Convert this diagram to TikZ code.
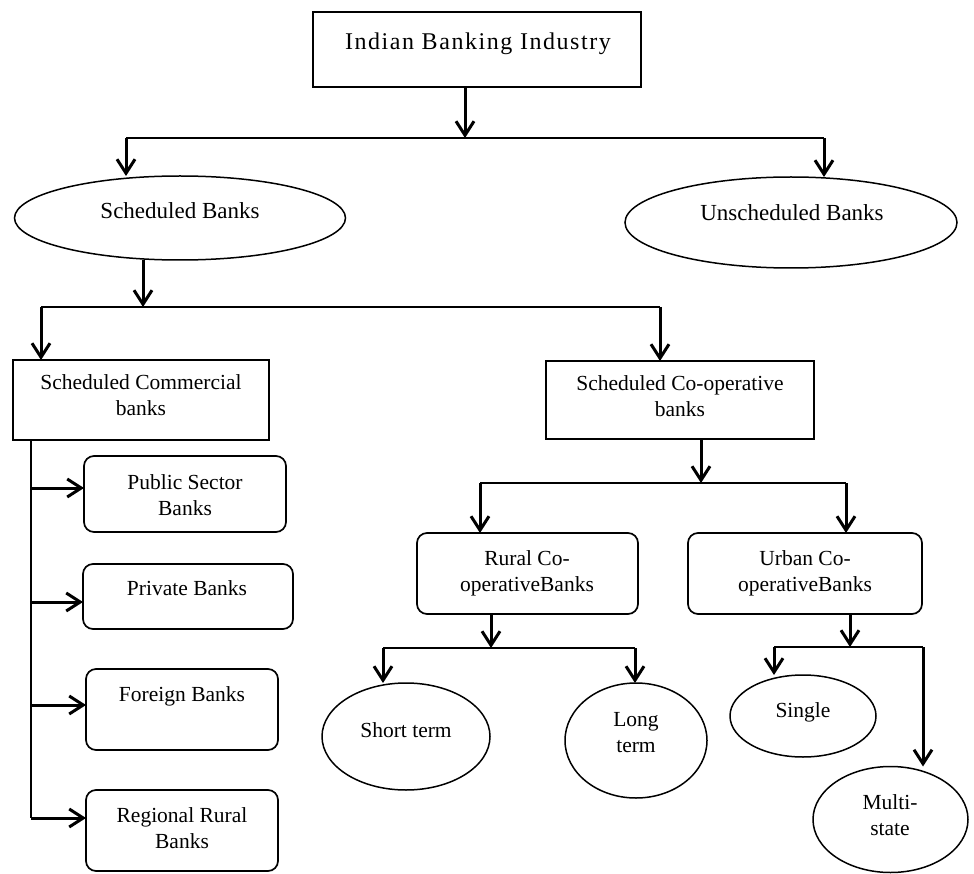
\documentclass[tikz,border=0pt]{standalone}
\usepackage{fontspec}
\setmainfont{Liberation Serif}
\usetikzlibrary{shapes.geometric,arrows.meta}

\tikzset{
  frame/.style={draw, line width=1.7pt, inner sep=0pt, outer sep=0pt},
  sqbox/.style={frame, rectangle},
  rbox/.style={frame, rectangle, rounded corners=10pt},
  oval/.style={frame, ellipse, line width=1.5pt},
  % anchor=base sits on the baseline of the last line
  txt/.style={align=center, inner sep=0pt, anchor=base,
              font=\fontsize{21.5}{26}\selectfont},
  bigtxt/.style={txt, font=\fontsize{23}{27}\selectfont},
  link/.style={line width=2.2pt},
  arr/.style={line width=3pt,
              -{Straight Barb[length=14pt,width=18pt,line width=3pt]}},
}

\begin{document}
\begin{tikzpicture}[x=1pt,y=-1pt]
\useasboundingbox (0,0) rectangle (974,874);

% ---- shapes ----
\node[sqbox, minimum width=328pt, minimum height=75pt] (ind) at (477,49.5) {};
\node[oval, minimum width=331pt, minimum height=84pt] (sch) at (180,218) {};
\node[oval, minimum width=332pt, minimum height=91pt] (uns) at (791,222.5) {};
\node[sqbox, minimum width=256pt, minimum height=80pt] (scb) at (141,400) {};
\node[sqbox, minimum width=268pt, minimum height=78pt] (scob) at (680,400) {};
\node[rbox, minimum width=202pt, minimum height=76pt] (psb) at (185,494) {};
\node[rbox, minimum width=210pt, minimum height=65pt] (pvb) at (188,596.5) {};
\node[rbox, minimum width=192pt, minimum height=81pt] (fb) at (182,709.5) {};
\node[rbox, minimum width=192pt, minimum height=81pt] (rrb) at (182,830.5) {};
\node[rbox, minimum width=221pt, minimum height=81pt] (rcb) at (527.5,573.5) {};
\node[rbox, minimum width=234pt, minimum height=81pt] (ucb) at (805,573.5) {};
\node[oval, minimum width=168pt, minimum height=107pt] (st) at (406,736.5) {};
\node[oval, minimum width=142pt, minimum height=115pt] (lt) at (636,740.5) {};
\node[oval, minimum width=146pt, minimum height=82pt] (sg) at (803,716) {};
\node[oval, minimum width=155pt, minimum height=106pt] (ms) at (890.5,819.5) {};

% ---- labels ----
\node[txt, font=\fontsize{24}{28}\selectfont\addfontfeature{LetterSpace=6.5}] (ind-t) at (478,50) {Indian Banking Industry};
\node[bigtxt] (sch-t) at (180,219) {Scheduled Banks};
\node[bigtxt] (uns-t) at (792,221) {Unscheduled Banks};
\node[txt] (scb-t) at (141,415) {Scheduled Commercial\\banks};
\node[txt] (scob-t) at (680,416) {Scheduled Co-operative\\banks};
\node[txt] (psb-t) at (185,515) {Public Sector\\Banks};
\node[txt] (pvb-t) at (187,595) {Private Banks};
\node[txt] (fb-t) at (182,701) {Foreign Banks};
\node[txt] (rrb-t) at (182,848) {Regional Rural\\Banks};
\node[txt] (rcb-t) at (527,591) {Rural Co-\\operativeBanks};
\node[txt] (ucb-t) at (805,591) {Urban Co-\\operativeBanks};
\node[txt] (st-t) at (406,737) {Short term};
\node[txt] (lt-t) at (636,752) {Long\\term};
\node[txt] (sg-t) at (803,717) {Single};
\node[txt] (ms-t) at (890,835) {Multi-\\state};

% ---- junction points ----
\coordinate (j1)  at (465,138);
\coordinate (j1l) at (126,138);
\coordinate (j1r) at (824,138);
\coordinate (j2)  at (143,307);
\coordinate (j2l) at (41,307);
\coordinate (j2r) at (660,307);
\coordinate (j3)  at (701,483);
\coordinate (j3l) at (480,483);
\coordinate (j3r) at (846,483);
\coordinate (j4)  at (491,648);
\coordinate (j4l) at (383,648);
\coordinate (j4r) at (635,648);
\coordinate (j5)  at (850,647);
\coordinate (j5l) at (774,647);
\coordinate (j5r) at (923,647);
\coordinate (t1)  at (31,488);
\coordinate (t2)  at (31,602);
\coordinate (t3)  at (31,705);
\coordinate (t4)  at (31,818);

% ---- connectors ----
\draw[arr] (ind.south -| j1) -- (j1);
\draw[link] (j1l) -- (j1r);
\draw[arr] (j1l) -- (j1l |- sch.north);
\draw[arr] (j1r) -- (j1r |- uns.north);

\draw[arr] (sch.south -| j2) -- (j2);
\draw[link] (j2l) -- (j2r);
\draw[arr] (j2l) -- (j2l |- scb.north);
\draw[arr] (j2r) -- (j2r |- scob.north);

\draw[link] (scb.south -| t1) -- (t4);
\draw[arr] (t1) -- (t1 -| psb.west);
\draw[arr] (t2) -- (t2 -| pvb.west);
\draw[arr] (t3) -- (t3 -| fb.west);
\draw[arr] (t4) -- (t4 -| rrb.west);

\draw[arr] (scob.south -| j3) -- (j3);
\draw[link] (j3l) -- (j3r);
\draw[arr] (j3l) -- (j3l |- rcb.north);
\draw[arr] (j3r) -- (j3r |- ucb.north);

\draw[arr] (rcb.south -| j4) -- (j4);
\draw[link] (j4l) -- (j4r);
\draw[arr] (j4l) -- (j4l |- st.north);
\draw[arr] (j4r) -- (j4r |- lt.north);

\draw[arr] (ucb.south -| j5) -- (j5);
\draw[link] (j5l) -- (j5r);
\draw[arr] (j5l) -- (j5l |- sg.north);
\draw[arr] (j5r) -- (j5r |- ms.north);
\end{tikzpicture}
\end{document}
